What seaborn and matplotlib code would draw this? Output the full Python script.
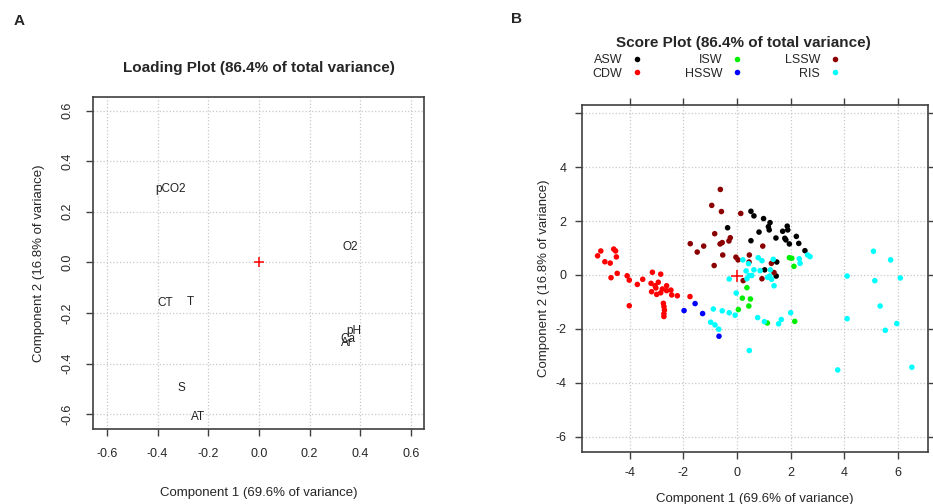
import matplotlib
matplotlib.use("Agg")
import matplotlib.pyplot as plt
import seaborn as sns
import pandas as pd

# ---- loading plot (panel A) ----
var_names = ["pCO2", "O2", "CT", "T", "pH", "Ca", "Ar", "S", "AT"]
load_pc1 = [-0.35, 0.36, -0.37, -0.27, 0.375, 0.352, 0.345, -0.305, -0.24]
load_pc2 = [0.29, 0.06, -0.16, -0.155, -0.27, -0.305, -0.32, -0.495, -0.61]

# ---- score plot (panel B), one pair of arrays per water mass ----
asw_x = [0.52, 0.63, 0.99, 1.23, 1.17, 1.20, 0.82, -0.35, 0.52, 1.45, 1.70,
         1.87, 1.89, 1.78, 1.82, 1.95, 2.21, 2.30, 2.53, 1.48, 1.03, 1.46]
asw_y = [2.36, 2.19, 2.09, 1.94, 1.79, 1.67, 1.59, 1.75, 1.27, 1.37, 1.62,
         1.81, 1.67, 1.36, 1.30, 1.15, 1.43, 1.17, 0.90, 0.48, 0.19, -0.04]

cdw_x = [-5.19, -5.07, -4.92, -4.72, -4.59, -4.52, -4.49, -4.69, -4.46, -4.09,
         -4.01, -3.71, -3.51, -4.01, -3.15, -2.84, -3.20, -3.05, -2.93, -2.78,
         -2.62, -3.18, -2.99, -2.84, -2.62, -2.46, -2.43, -2.22, -1.75, -2.74,
         -2.72, -2.70, -2.72, -2.72, -3.02]
cdw_y = [0.71, 0.89, 0.49, 0.44, 0.96, 0.89, 0.67, -0.10, 0.06, -0.03,
         -0.19, -0.35, -0.16, -1.14, 0.10, 0.03, -0.31, -0.40, -0.27, -0.52,
         -0.40, -0.62, -0.72, -0.66, -0.58, -0.56, -0.74, -0.77, -0.80, -1.05,
         -1.17, -1.30, -1.44, -1.54, -0.48]

isw_x = [1.95, 2.04, 2.12, 0.37, 0.20, 0.50, 0.44, 0.05, 1.13, 2.15]
isw_y = [0.64, 0.62, 0.32, -0.47, -0.86, -0.89, -1.15, -1.28, -1.78, -1.72]

hssw_x = [-1.97, -1.56, -1.28, -0.67]
hssw_y = [-1.32, -1.06, -1.43, -2.27]

lssw_x = [-0.62, -0.94, -0.58, 0.14, -1.74, -1.48, -1.24, -0.83, -0.63, -0.55,
          -0.30, -0.25, -0.53, -0.85, -0.04, 0.04, 0.46, 0.45, 0.96, 1.28,
          1.38, 0.23, 0.93]
lssw_y = [3.17, 2.58, 2.35, 2.28, 1.16, 0.85, 1.07, 1.53, 1.15, 1.20,
          1.26, 1.38, 0.74, 0.35, 0.66, 0.56, 0.74, 0.48, 1.07, 0.43,
          0.09, -0.21, -0.14]

ris_x = [5.08, 5.72, 4.10, 5.13, 6.08, 5.33, 4.10, 5.95, 5.52, 3.75, 6.51,
         0.46, 0.77, 1.02, 1.55, 1.65, 2.00, -0.88, -0.55, -0.29, -0.07, -0.98,
         -0.82, -0.68, -0.03, -0.29, 0.22, 0.43, 0.79, 0.93, 1.35, 1.38, 0.34,
         0.45, 0.37, 0.55, 0.63, 0.86, 1.14, 1.22, 1.29, 1.24, 2.32, 2.35,
         2.63, 2.72]
ris_y = [0.88, 0.56, -0.04, -0.21, -0.11, -1.15, -1.62, -1.80, -2.05, -3.52, -3.42,
         -2.80, -1.58, -1.73, -1.81, -1.65, -1.40, -1.26, -1.33, -1.40, -1.49, -1.75,
         -1.85, -2.01, -0.67, -0.15, 0.56, 0.42, 0.64, 0.53, 0.58, -0.40, 0.15,
         -0.02, -0.14, -0.02, 0.19, 0.16, -0.09, -0.04, -0.16, 0.19, 0.60, 0.43,
         0.74, 0.68]

centroid = (0.0, -0.05)

groups = ["ASW", "CDW", "ISW", "HSSW", "LSSW", "RIS"]
group_colors = ["black", "red", "#00ee00", "blue", "#8B0000", "cyan"]
group_xy = {
    "ASW": (asw_x, asw_y), "CDW": (cdw_x, cdw_y), "ISW": (isw_x, isw_y),
    "HSSW": (hssw_x, hssw_y), "LSSW": (lssw_x, lssw_y), "RIS": (ris_x, ris_y),
}

rows = []
for g in groups:
    xs, ys = group_xy[g]
    for x, y in zip(xs, ys):
        rows.append({"pc1": x, "pc2": y, "water": g})
scores = pd.DataFrame(rows)
loadings = pd.DataFrame({"pc1": load_pc1, "pc2": load_pc2, "name": var_names})

sns.set_style("white")
plt.rcParams["font.family"] = ["Liberation Sans", "DejaVu Sans"]
plt.rcParams["axes.unicode_minus"] = False

fig = plt.figure(figsize=(9.33, 5.04), dpi=100)
ax1 = fig.add_axes([0.0997, 0.1488, 0.3547, 0.6587])
ax2 = fig.add_axes([0.6238, 0.1032, 0.3708, 0.6885])

spine_col = "#404040"
grid_kw = dict(linestyle=":", color="#c8c8c8", linewidth=0.9)

# panel A
sns.scatterplot(x=[0.0], y=[0.0], marker="+", color="red", s=60,
                linewidth=1.1, ax=ax1)
for _, r in loadings.iterrows():
    ax1.text(r.pc1, r.pc2, r["name"], ha="center", va="center", fontsize=8.5,
             color="#222222")
ax1.set_xlim(-0.655, 0.651)
ax1.set_ylim(-0.659, 0.654)
ticks_a = [-0.6, -0.4, -0.2, 0.0, 0.2, 0.4, 0.6]
ax1.set_xticks(ticks_a)
ax1.set_yticks(ticks_a)
ax1.set_xticklabels([f"{t:.1f}" for t in ticks_a])
ax1.set_yticklabels([f"{t:.1f}" for t in ticks_a], rotation=90, va="center")
ax1.tick_params(direction="out", length=5, width=1, color=spine_col,
                labelsize=9, pad=9, bottom=True, left=True)
ax1.grid(True, **grid_kw)
ax1.set_xlabel("Component 1 (69.6% of variance)", fontsize=9.5, labelpad=19)
ax1.set_ylabel("Component 2 (16.8% of variance)", fontsize=9.5, labelpad=12)
ax1.set_title("Loading Plot (86.4% of total variance)", fontsize=11,
              fontweight="bold", pad=18)

# panel B
sns.scatterplot(data=scores, x="pc1", y="pc2", hue="water", hue_order=groups,
                palette=group_colors, s=16, edgecolor="none", ax=ax2)
ax2.plot([centroid[0]], [centroid[1]], marker="+", color="red", ms=9, mew=1.1)
ax2.set_xlim(-5.77, 7.11)
ax2.set_ylim(-6.56, 6.3)
ax2.set_xticks([-4, -2, 0, 2, 4, 6])
ax2.set_yticks([-6, -4, -2, 0, 2, 4, 6])
ax2.set_yticklabels(["-6", "-4", "-2", "0", "2", "4", ""])
ax2.tick_params(direction="out", length=5, width=1, color=spine_col,
                labelsize=9, pad=6, bottom=True, left=True, top=True, right=True)
ax2.grid(True, **grid_kw)
ax2.set_xlabel("Component 1 (69.6% of variance)", fontsize=9.5, labelpad=10)
ax2.set_ylabel("Component 2 (16.8% of variance)", fontsize=9.5, labelpad=4)

sns.move_legend(ax2, "center", bbox_to_anchor=(0.767, 0.867),
                bbox_transform=fig.transFigure, ncol=3, markerfirst=False,
                frameon=False, title=None, fontsize=9, handlelength=0.6,
                handletextpad=0.9, columnspacing=3.5, labelspacing=0.1,
                borderpad=0)

for ax in (ax1, ax2):
    for sp in ax.spines.values():
        sp.set_visible(True)
        sp.set_color(spine_col)
        sp.set_linewidth(1.2)

fig.text(0.7965, 0.914, "Score Plot (86.4% of total variance)", ha="center",
         va="center", fontsize=11, fontweight="bold")
fig.text(0.021, 0.958, "A", ha="center", va="center", fontsize=11,
         fontweight="bold")
fig.text(0.554, 0.962, "B", ha="center", va="center", fontsize=11,
         fontweight="bold")

fig.savefig("out.png", dpi=100)
